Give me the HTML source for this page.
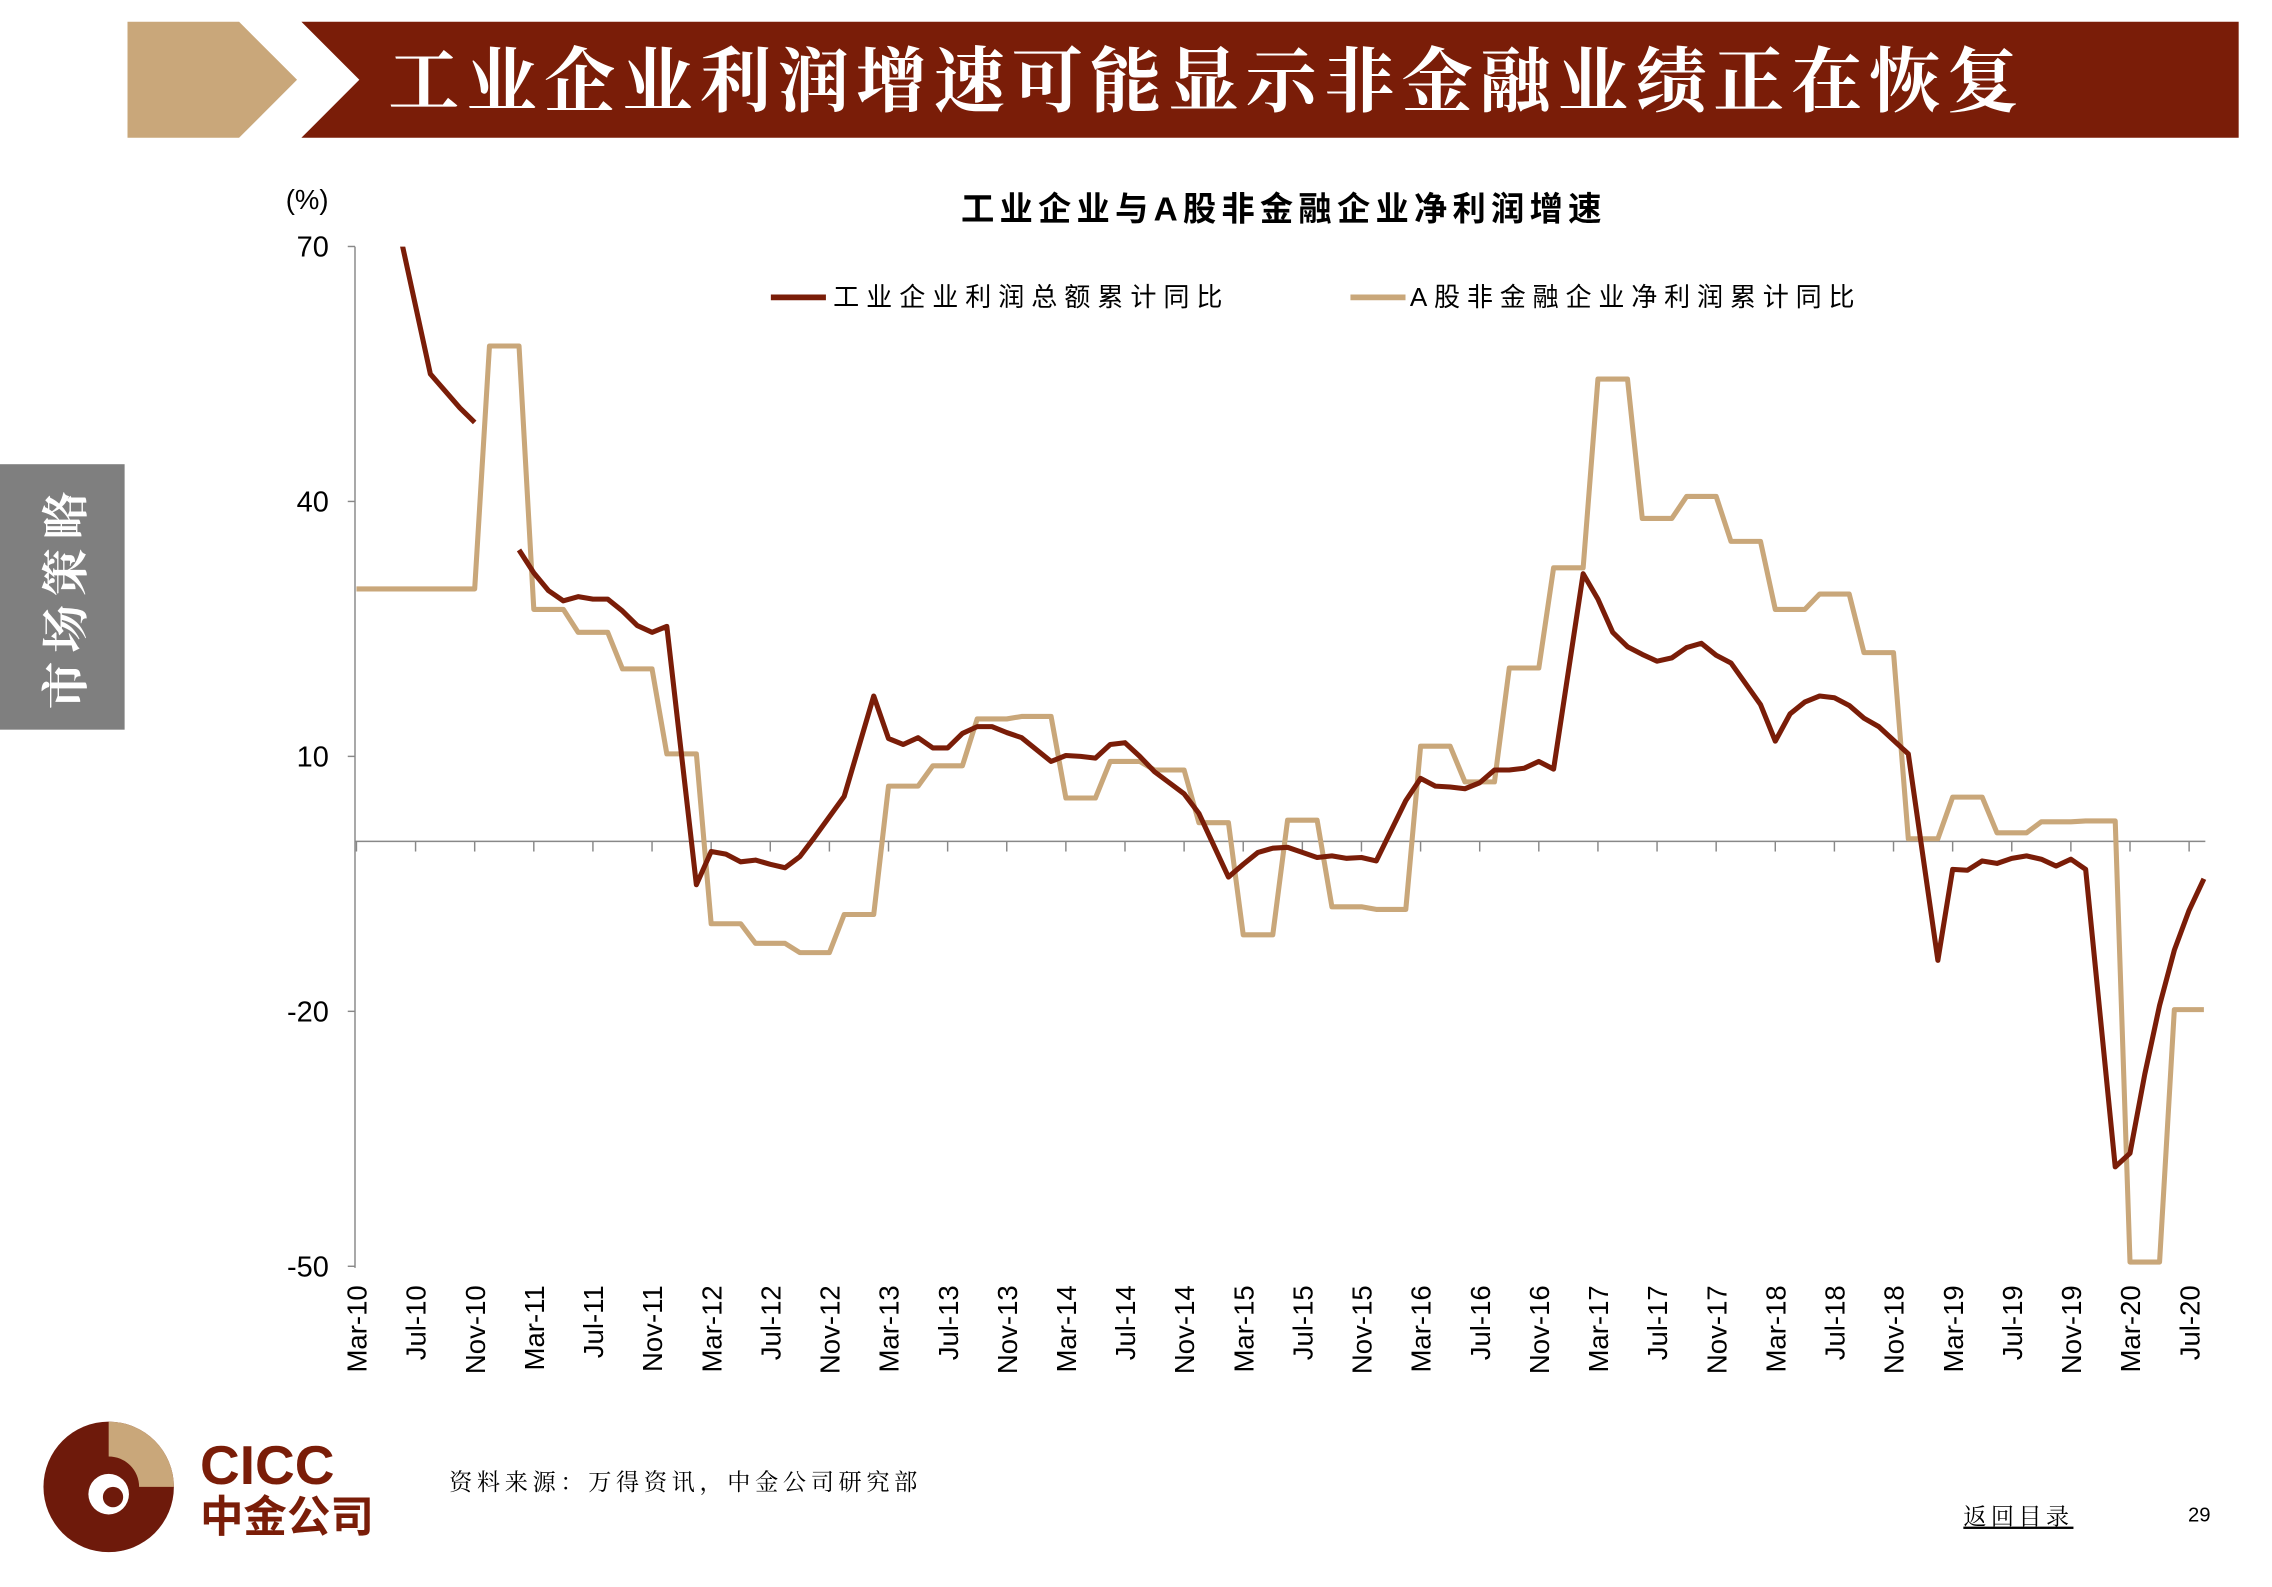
<!DOCTYPE html>
<html><head><meta charset="utf-8"><style>
html,body{margin:0;padding:0;background:#fff;}
svg{display:block;font-family:"Liberation Sans","Noto Sans CJK SC",sans-serif;}
</style></head><body>
<svg id="chart" width="2272" height="1587" viewBox="0 0 1568 1094" preserveAspectRatio="none" xmlns="http://www.w3.org/2000/svg">
<polygon points="88,15 165,15 205,55 165,95 88,95" fill="#c9a77a"/>
<polygon points="208,15 1545,15 1545,95 208,95 248,55" fill="#7a1d08"/>
<text x="268" y="73" fill="#fff" font-size="49" font-weight="bold" letter-spacing="4.8" font-family="'Liberation Serif','Noto Serif CJK SC',serif">工业企业利润增速可能显示非金融业绩正在恢复</text>
<rect x="0" y="320" width="86" height="183" fill="#7f7f7f"/>
<text transform="translate(57,411) rotate(-90)" text-anchor="middle" fill="#fff" font-size="33" font-weight="bold" letter-spacing="6" font-family="'Liberation Serif','Noto Serif CJK SC',serif">市场策略</text>
<text x="886" y="152" text-anchor="middle" font-size="23" font-weight="bold" letter-spacing="3.6">工业企业与A股非金融企业净利润增速</text>
<g>
<line x1="532" y1="205" x2="570" y2="205" stroke="#7a1d08" stroke-width="4"/>
<text x="575" y="211" font-size="18" letter-spacing="4.8">工业企业利润总额累计同比</text>
<line x1="932" y1="205" x2="970" y2="205" stroke="#c9a77a" stroke-width="4"/>
<text x="973" y="211" font-size="18" letter-spacing="4.7">A股非金融企业净利润累计同比</text>
</g>
<text x="212" y="144" text-anchor="middle" font-size="19">(%)</text>
<g id="axes"></g>
<defs><clipPath id="plotclip"><rect x="245" y="170" width="1290" height="705"/></clipPath></defs>
<g id="series" clip-path="url(#plotclip)"></g>
<g>
<circle cx="75" cy="1025" r="45" fill="#6e1a0b"/>
<path d="M75,980 A45,45 0 0 1 120,1025 L96,1025 A21,21 0 0 0 75,1004 Z" fill="#c9a77a"/>
<circle cx="75" cy="1030" r="14" fill="#fff"/>
<circle cx="78" cy="1032" r="7" fill="#6e1a0b"/>
<text x="138" y="1023" font-size="38" font-weight="bold" fill="#7a1d08">CICC</text>
<text x="138" y="1056" font-size="30" font-weight="bold" fill="#7a1d08">中金公司</text>
</g>
<text x="310" y="1027" font-size="16" letter-spacing="3.2" font-family="'Liberation Serif','Noto Serif CJK SC',serif">资料来源：万得资讯，中金公司研究部</text>
<text x="1355" y="1051" font-size="16" letter-spacing="3" text-decoration="underline" font-family="'Liberation Serif','Noto Serif CJK SC',serif">返回目录</text>
<text x="1510" y="1049" font-size="14">29</text>
</svg>
<script>
const yTicks=[70,40,10,-20,-50];
const xLabels=["Mar-10","Jul-10","Nov-10","Mar-11","Jul-11","Nov-11","Mar-12","Jul-12","Nov-12","Mar-13","Jul-13","Nov-13","Mar-14","Jul-14","Nov-14","Mar-15","Jul-15","Nov-15","Mar-16","Jul-16","Nov-16","Mar-17","Jul-17","Nov-17","Mar-18","Jul-18","Nov-18","Mar-19","Jul-19","Nov-19","Mar-20","Jul-20"];
// monthly from Mar-10 (index 0) to Aug-20 (index 125); null = no data
const industrial=[null,null,null,71,63,55,53,51,49.3,null,null,34.3,31.6,29.5,28.3,28.8,28.5,28.5,27.1,25.4,24.6,25.3,null,-5.1,-1.2,-1.5,-2.4,-2.2,-2.7,-3.1,-1.8,0.5,2.9,5.3,null,17.1,12.1,11.4,12.2,11.0,11.0,12.7,13.5,13.5,12.8,12.2,null,9.4,10.1,10.0,9.8,11.4,11.6,10.0,8.2,6.9,5.6,3.3,null,-4.2,-2.7,-1.3,-0.8,-0.7,-1.3,-1.9,-1.7,-2.0,-1.9,-2.3,null,4.8,7.4,6.5,6.4,6.2,6.9,8.4,8.4,8.6,9.4,8.5,null,31.5,28.5,24.6,22.9,22.0,21.2,21.6,22.8,23.3,21.9,21.0,null,16.1,11.8,15.0,16.4,17.1,16.9,16.0,14.5,13.5,11.9,10.3,null,-14.0,-3.3,-3.4,-2.3,-2.6,-2.0,-1.7,-2.1,-2.9,-2.1,-3.3,null,-38.3,-36.7,-27.4,-19.3,-12.8,-8.1,-4.4];
const ashare=[29.7,29.7,29.7,29.7,29.7,29.7,29.7,29.7,29.7,58.3,58.3,58.3,27.3,27.3,27.3,24.6,24.6,24.6,20.3,20.3,20.3,10.3,10.3,10.3,-9.7,-9.7,-9.7,-12,-12,-12,-13.1,-13.1,-13.1,-8.6,-8.6,-8.6,6.5,6.5,6.5,8.9,8.9,8.9,14.4,14.4,14.4,14.7,14.7,14.7,5.1,5.1,5.1,9.4,9.4,9.4,8.4,8.4,8.4,2.2,2.2,2.2,-11,-11,-11,2.5,2.5,2.5,-7.7,-7.7,-7.7,-8.0,-8.0,-8.0,11.2,11.2,11.2,7.0,7.0,7.0,20.4,20.4,20.4,32.2,32.2,32.2,54.4,54.4,54.4,38.0,38.0,38.0,40.6,40.6,40.6,35.3,35.3,35.3,27.3,27.3,27.3,29.1,29.1,29.1,22.2,22.2,22.2,0.3,0.3,0.3,5.2,5.2,5.2,1.0,1.0,1.0,2.3,2.3,2.3,2.4,2.4,2.4,-49.5,-49.5,-49.5,-19.8,-19.8,-19.8];

const NS="http://www.w3.org/2000/svg";
function X(i){return 246+i*10.2;}
function Y(v){return 580-v*(703/120);}
function mk(tag,attrs,parent){const e=document.createElementNS(NS,tag);for(const k in attrs)e.setAttribute(k,attrs[k]);parent.appendChild(e);return e;}
const axes=document.getElementById('axes');
let e=mk('line',{x1:245,y1:170,x2:245,y2:874,stroke:'#888','stroke-width':1},axes);


yTicks.forEach(t=>{
  const l=mk('line',{x1:240,y1:Y(t),x2:245,y2:Y(t),stroke:'#888','stroke-width':1},axes);
  
  
  const tx=mk('text',{x:227,y:Y(t)+7,'text-anchor':'end','font-size':20},axes);
  tx.textContent=t;
  
  
});
e=mk('line',{x1:245,y1:Y(0),x2:1522,y2:Y(0),stroke:'#888','stroke-width':1},axes);


xLabels.forEach((lab,k)=>{
  const x=X(k*4);
  const l=mk('line',{x1:x,y1:Y(0),x2:x,y2:Y(0)+7,stroke:'#888','stroke-width':1},axes);
  
  
  const tx=mk('text',{transform:`translate(${x+7},886) rotate(-90)`,'text-anchor':'end','font-size':19},axes);
  tx.textContent=lab;
  
  
});
function pathFor(arr){
  let d='',last=-10;
  arr.forEach((v,i)=>{
    if(v===null)return;
    d+=(i-last>2?'M':'L')+X(i).toFixed(1)+','+Y(v).toFixed(1)+' ';
    last=i;
  });
  return d;
}
const sg=document.getElementById('series');
e=mk('path',{d:pathFor(ashare),fill:'none',stroke:'#c9a77a','stroke-width':3.5,'stroke-linejoin':'round'},sg);


e=mk('path',{d:pathFor(industrial),fill:'none',stroke:'#7a1d08','stroke-width':3.5,'stroke-linejoin':'round'},sg);


</script>
</body></html>
